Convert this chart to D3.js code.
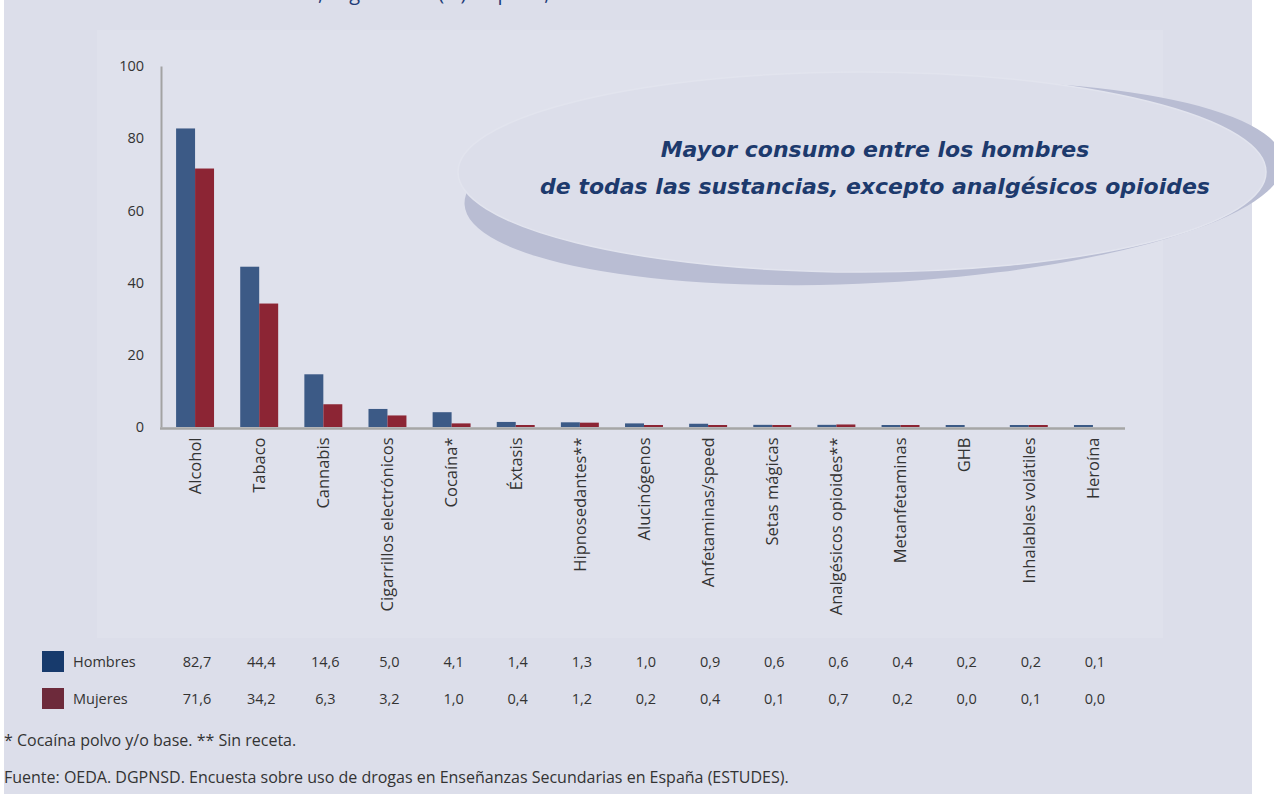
<!DOCTYPE html>
<html>
<head>
<meta charset="utf-8">
<script src="https://cdn.jsdelivr.net/npm/d3@7"></script>
<style>
  body { margin: 0; background: #ffffff; }
  svg { display: block; }
</style>
</head>
<body>
<div id="chart"></div>
<script>
// data
var categories = ["Alcohol", "Tabaco", "Cannabis", "Cigarrillos electrónicos", "Cocaína*", "Éxtasis",
  "Hipnosedantes**", "Alucinógenos", "Anfetaminas/speed", "Setas mágicas", "Analgésicos opioides**",
  "Metanfetaminas", "GHB", "Inhalables volátiles", "Heroína"];
var hombres = [82.7, 44.4, 14.6, 5.0, 4.1, 1.4, 1.3, 1.0, 0.9, 0.6, 0.6, 0.4, 0.2, 0.2, 0.1];
var mujeres = [71.6, 34.2, 6.3, 3.2, 1.0, 0.4, 1.2, 0.2, 0.4, 0.1, 0.7, 0.2, 0.0, 0.1, 0.0];
var seriesNames = ["Hombres", "Mujeres"];
var yTicks = [0, 20, 40, 60, 80, 100];
var titleStart = "Estudiantes de 14-18 años";
var titleEnd = ", según sexo (%). España, 2023.";
var calloutLines = ["Mayor consumo entre los hombres", "de todas las sustancias, excepto analgésicos opioides"];
var footnotes = ["* Cocaína polvo y/o base. ** Sin receta.",
  "Fuente: OEDA. DGPNSD. Encuesta sobre uso de drogas en Enseñanzas Secundarias en España (ESTUDES)."];

var barColors = ["#3c5a86", "#8c2534"];
var legendColors = ["#173a6c", "#6d2a3b"];
var font = "'Open Sans', sans-serif";

var W = 1274, H = 794;
var svg = d3.select("#chart").append("svg")
  .attr("width", W).attr("height", H);

// page backgrounds
svg.append("rect").attr("x", 4).attr("y", 0).attr("width", 1248).attr("height", H).attr("fill", "#dcdeea");
svg.append("rect").attr("x", 97).attr("y", 30).attr("width", 1066).attr("height", 608).attr("fill", "#dfe1ec");

// cut off title (only its lower part shows)
svg.append("text").attr("x", 318).attr("y", 0)
  .attr("font-family", font).attr("font-size", 20).attr("fill", "#1f3c78").text(titleEnd);
svg.append("text").attr("x", 318).attr("y", 0).attr("text-anchor", "end")
  .attr("font-family", font).attr("font-size", 20).attr("fill", "#1f3c78").text(titleStart);

// scales
var x0 = d3.scaleBand().domain(categories).range([163, 1125]).padding(0);
var x1 = d3.scaleBand().domain(seriesNames).range([0, x0.bandwidth()]).paddingInner(0).paddingOuter(0.69);
var y = d3.scaleLinear().domain([0, 100]).range([427, 66]);

// callout ellipse with shadow
svg.append("ellipse")
  .attr("transform", "translate(874,183) rotate(-3)")
  .attr("rx", 410).attr("ry", 100).attr("fill", "#b9bdd3");
svg.append("ellipse")
  .attr("cx", 862).attr("cy", 172).attr("rx", 404).attr("ry", 100)
  .attr("fill", "#dcdeea").attr("stroke", "#e2e4ee").attr("stroke-width", 1.5);

calloutLines.forEach(function(t, i) {
  svg.append("text")
    .attr("x", 875).attr("y", 157 + i * 37)
    .attr("text-anchor", "middle")
    .attr("font-family", "'DejaVu Sans', sans-serif")
    .attr("font-style", "italic").attr("font-weight", "bold")
    .attr("font-size", 22).attr("fill", "#1d3a6d")
    .text(t);
});

// bars
var rows = categories.map(function(c, i) {
  return { cat: c, values: [hombres[i], mujeres[i]] };
});
var groups = svg.selectAll(".grp").data(rows).enter().append("g")
  .attr("class", "grp")
  .attr("transform", function(d) { return "translate(" + x0(d.cat) + ",0)"; });
groups.selectAll("rect")
  .data(function(d) { return d.values.map(function(v, k) { return { key: seriesNames[k], v: v, k: k }; }); })
  .enter().append("rect")
  .attr("x", function(d) { return x1(d.key); })
  .attr("width", x1.bandwidth())
  .attr("y", function(d) { return Math.min(y(d.v), d.v > 0 ? y(0) - 2 : y(0)); })
  .attr("height", function(d) { return Math.max(y(0) - y(d.v), d.v > 0 ? 2 : 0); })
  .attr("fill", function(d) { return barColors[d.k]; });

// y axis
var yAxis = svg.append("g").attr("transform", "translate(161,0)")
  .call(d3.axisLeft(y).tickValues(yTicks).tickSize(0).tickPadding(17));
yAxis.select(".domain").attr("stroke", "#a3a3a3").attr("stroke-width", 2);
yAxis.selectAll("text").attr("font-family", font).attr("font-size", 14.5).attr("fill", "#333");

// x axis
var xAxis = svg.append("g").attr("transform", "translate(0,428.5)")
  .call(d3.axisBottom(x0).tickSize(0).tickPadding(9));
xAxis.select(".domain").attr("d", "M160,0H1125").attr("stroke", "#a6a6a6").attr("stroke-width", 2.5);
xAxis.selectAll("text")
  .attr("font-family", font).attr("font-size", 16.5).attr("fill", "#333")
  .attr("transform", "rotate(-90)")
  .attr("text-anchor", "end")
  .attr("x", -9).attr("y", 0).attr("dy", "0.35em");

// data table under the chart
[hombres, mujeres].forEach(function(vals, r) {
  var rowY = 667 + r * 37;
  svg.append("rect").attr("x", 42).attr("y", rowY - 16).attr("width", 22).attr("height", 21)
    .attr("fill", legendColors[r]);
  svg.append("text").attr("x", 73).attr("y", rowY)
    .attr("font-family", font).attr("font-size", 14.5).attr("fill", "#333")
    .text(seriesNames[r]);
  svg.selectAll(".val" + r).data(vals).enter().append("text")
    .attr("class", "val" + r)
    .attr("x", function(d, i) { return x0(categories[i]) + x0.bandwidth() / 2 + 2; })
    .attr("y", rowY)
    .attr("text-anchor", "middle")
    .attr("font-family", font).attr("font-size", 14.5).attr("fill", "#333")
    .text(function(d) { return d3.format(".1f")(d).replace(".", ","); });
});

// notes
footnotes.forEach(function(t, i) {
  svg.append("text").attr("x", 4).attr("y", 746 + i * 37)
    .attr("font-family", font).attr("font-size", 16).attr("fill", "#333")
    .text(t);
});
</script>
</body>
</html>
